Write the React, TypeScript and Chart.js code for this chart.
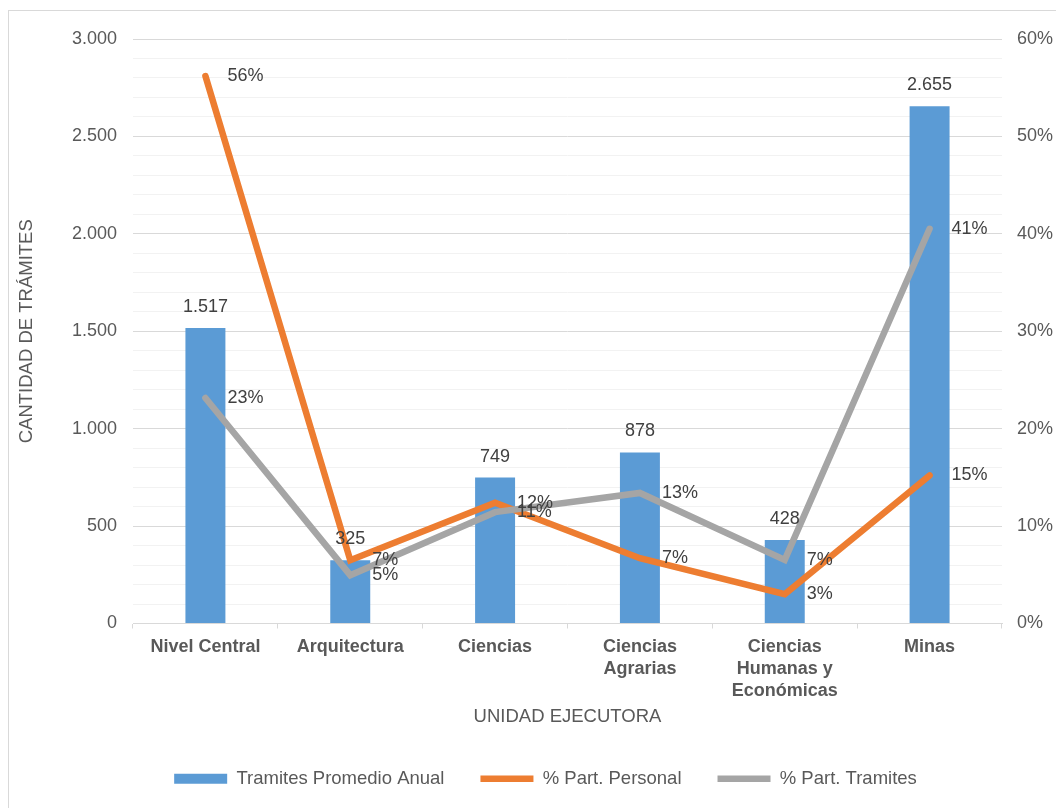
import { useEffect, useRef } from 'react';
import { Chart, registerables } from 'chart.js';

Chart.register(...registerables);

// Unidades ejecutoras (multi-line labels as arrays)
const categories: string[][] = [
  ['Nivel Central'],
  ['Arquitectura'],
  ['Ciencias'],
  ['Ciencias', 'Agrarias'],
  ['Ciencias', 'Humanas y', 'Económicas'],
  ['Minas'],
];

// Trámites promedio anual por unidad
const tramitesPromedio = [1517, 325, 749, 878, 428, 2655];

// % de participación del personal
const partPersonal = [56.2, 6.5, 12.4, 6.7, 3.0, 15.2];

// % de participación en trámites
const partTramites = [23.15, 4.96, 11.43, 13.4, 6.53, 40.52];

// Labelled ticks on each axis
const countTicks = [0, 500, 1000, 1500, 2000, 2500, 3000];
const pctTicks = [0, 10, 20, 30, 40, 50, 60];

const FONT = "'Liberation Sans', Arial, sans-serif";
const AXIS_COLOR = '#595959';
const LABEL_COLOR = '#404040';

const fmtThousands = (v: number) =>
  String(Math.round(v)).replace(/\B(?=(\d{3})+(?!\d))/g, '.');

// Value labels: counts above the bars, percentages to the right of line points
const valueLabels = {
  id: 'valueLabels',
  afterDatasetsDraw(chart: any) {
    const ctx = chart.ctx as CanvasRenderingContext2D;
    ctx.save();
    ctx.font = `18px ${FONT}`;
    ctx.fillStyle = LABEL_COLOR;
    ctx.textBaseline = 'middle';
    chart.data.datasets.forEach((ds: any, i: number) => {
      const meta = chart.getDatasetMeta(i);
      meta.data.forEach((el: any, j: number) => {
        const v = ds.data[j] as number;
        if (meta.type === 'bar') {
          ctx.textAlign = 'center';
          ctx.fillText(fmtThousands(v), el.x, el.y - 21);
        } else {
          ctx.textAlign = 'left';
          ctx.fillText(`${Math.round(v)}%`, el.x + 22, el.y);
        }
      });
    });
    ctx.restore();
  },
};

export default function App() {
  const canvasRef = useRef<HTMLCanvasElement | null>(null);

  useEffect(() => {
    if (!canvasRef.current) return;
    const chart = new Chart(canvasRef.current, {
      type: 'bar',
      data: {
        labels: categories,
        datasets: [
          {
            type: 'bar',
            label: 'Tramites Promedio Anual',
            data: tramitesPromedio,
            backgroundColor: '#5B9BD5',
            borderWidth: 0,
            yAxisID: 'y',
            order: 3,
            pointStyle: 'rect',
            categoryPercentage: 1,
            barPercentage: 0.276,
          } as any,
          {
            type: 'line',
            label: '% Part. Personal',
            data: partPersonal,
            borderColor: '#ED7D31',
            backgroundColor: '#ED7D31',
            borderWidth: 6.5,
            borderCapStyle: 'round',
            pointRadius: 0,
            pointHoverRadius: 0,
            pointStyle: 'line',
            yAxisID: 'y1',
            order: 2,
          } as any,
          {
            type: 'line',
            label: '% Part. Tramites',
            data: partTramites,
            borderColor: '#A5A5A5',
            backgroundColor: '#A5A5A5',
            borderWidth: 6.5,
            borderCapStyle: 'round',
            pointRadius: 0,
            pointHoverRadius: 0,
            pointStyle: 'line',
            yAxisID: 'y1',
            order: 1,
          } as any,
        ],
      },
      options: {
        animation: false,
        responsive: true,
        maintainAspectRatio: false,
        layout: { padding: { top: 28, bottom: 10, left: 18, right: 0 } },
        plugins: {
          tooltip: { enabled: false },
          legend: {
            position: 'bottom',
            labels: {
              usePointStyle: true,
              pointStyleWidth: 53,
              boxHeight: 10,
              padding: 36,
              color: AXIS_COLOR,
              font: { family: FONT, size: 18.5 },
              sort: (a: any, b: any) => a.datasetIndex - b.datasetIndex,
            },
          },
        },
        scales: {
          x: {
            offset: true,
            grid: {
              display: true,
              offset: true,
              drawOnChartArea: false,
              drawTicks: true,
              tickLength: 5,
              color: '#d9d9d9',
            },
            border: { display: true, color: '#d9d9d9', width: 1 },
            ticks: {
              autoSkip: false,
              maxRotation: 0,
              padding: 8,
              color: AXIS_COLOR,
              font: { family: FONT, size: 18, weight: 'bold', lineHeight: 1.22 },
            },
            title: {
              display: true,
              text: 'UNIDAD EJECUTORA',
              color: AXIS_COLOR,
              font: { family: FONT, size: 18.5 },
              padding: { top: 0, bottom: 5 },
            },
            afterFit: (scale: any) => {
              scale.height = 110;
            },
          },
          y: {
            position: 'left',
            min: 0,
            max: 3000,
            grid: {
              drawTicks: false,
              color: (c: any) =>
                countTicks.includes(c.tick?.value) ? '#d9d9d9' : '#f2f2f2',
              lineWidth: 1,
            },
            border: { display: false },
            ticks: {
              stepSize: 100,
              autoSkip: false,
              padding: 16,
              color: AXIS_COLOR,
              font: { family: FONT, size: 18 },
              callback: (v: any) =>
                countTicks.includes(Number(v)) ? fmtThousands(Number(v)) : '',
            },
            title: {
              display: true,
              text: 'CANTIDAD DE TRÁMITES',
              color: AXIS_COLOR,
              font: { family: FONT, size: 18.5 },
              padding: { top: -11, bottom: 0 },
            },
            afterFit: (scale: any) => {
              scale.width = 106;
            },
          },
          y1: {
            position: 'right',
            min: 0,
            max: 60,
            grid: { display: false, drawTicks: false },
            border: { display: false },
            ticks: {
              stepSize: 10,
              autoSkip: false,
              padding: 15,
              color: AXIS_COLOR,
              font: { family: FONT, size: 18 },
              callback: (v: any) =>
                pctTicks.includes(Number(v)) ? `${v}%` : '',
            },
            afterFit: (scale: any) => {
              scale.width = 62;
            },
          },
        },
      } as any,
      plugins: [valueLabels],
    });
    return () => chart.destroy();
  }, []);

  return (
    <div
      style={{
        marginTop: 2,
        width: 1056,
        height: 798,
        boxSizing: 'border-box',
        borderTop: '1px solid #d9d9d9',
        borderLeft: '1px solid #d9d9d9',
        background: '#fff',
      }}
    >
      <div style={{ position: 'relative', width: 1055, height: 797 }}>
        <canvas ref={canvasRef} />
      </div>
    </div>
  );
}
